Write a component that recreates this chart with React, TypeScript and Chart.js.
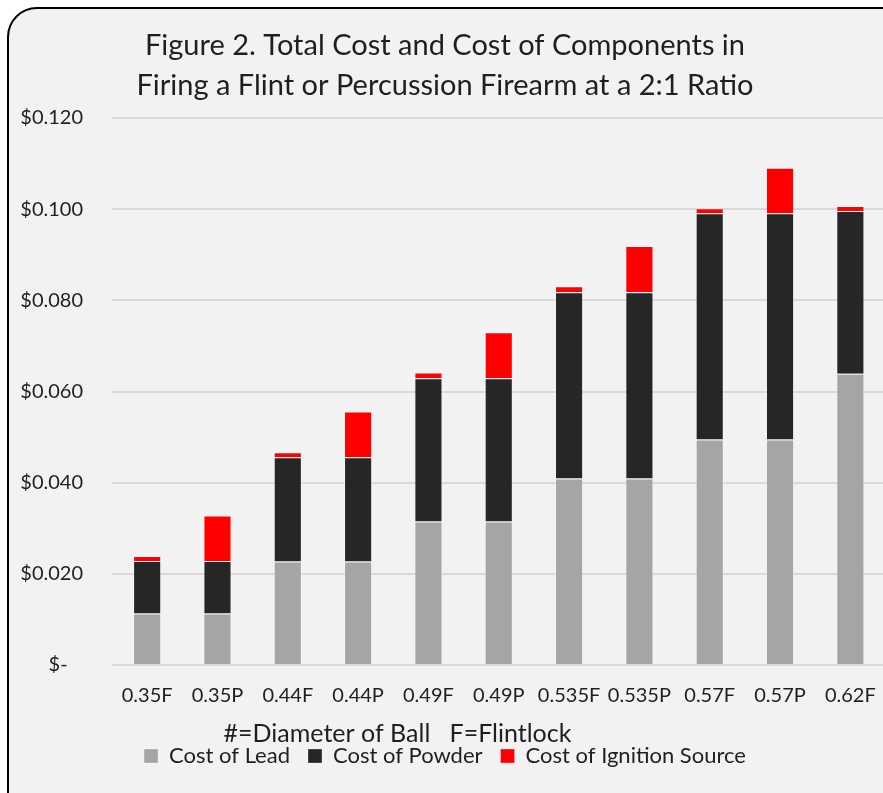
import React, { useEffect, useRef } from "react";
import { Chart, registerables } from "chart.js";

Chart.register(...registerables);

const categories = ["0.35F", "0.35P", "0.44F", "0.44P", "0.49F", "0.49P", "0.535F", "0.535P", "0.57F", "0.57P", "0.62F"];
const leadCost = [0.0113, 0.0113, 0.0227, 0.0227, 0.0315, 0.0315, 0.0409, 0.0409, 0.0495, 0.0495, 0.0639];
const powderCost = [0.0115, 0.0115, 0.0229, 0.0229, 0.0314, 0.0314, 0.0409, 0.0409, 0.0496, 0.0496, 0.0357];
const ignitionCost = [0.0011, 0.0100, 0.0011, 0.0100, 0.0013, 0.0101, 0.0013, 0.0101, 0.0011, 0.0100, 0.0011];
const seriesNames = ["Cost of Lead", "Cost of Powder", "Cost of Ignition Source"];
const titleLines = ["Figure 2. Total Cost and Cost of Components in", "Firing a Flint or Percussion Firearm at a 2:1 Ratio"];
const axisNote = "#=Diameter of Ball   F=Flintlock";
const yMax = 0.12;
const yStep = 0.02;

const FONT = 'Lato, "Noto Sans", sans-serif';
const TEXT = "#1f1f1f";

const axisNotePlugin = {
  id: "axisNote",
  afterDraw(chart: any) {
    const ctx = chart.ctx;
    ctx.save();
    ctx.font = `25px ${FONT}`;
    ctx.fillStyle = TEXT;
    ctx.textAlign = "center";
    ctx.textBaseline = "middle";
    ctx.fillText(axisNote, chart.width / 2 - 50, chart.chartArea.bottom + 69);
    ctx.restore();
  },
};

export default function App() {
  const ref = useRef<HTMLCanvasElement | null>(null);

  useEffect(() => {
    if (!ref.current) return;
    Chart.defaults.font.family = FONT;
    const border = "rgba(255,255,255,0.3)";
    const chart = new Chart(ref.current, {
      type: "bar",
      data: {
        labels: categories,
        datasets: [
          { label: seriesNames[0], data: leadCost, backgroundColor: "#a5a5a5", borderColor: border, borderWidth: 1 },
          { label: seriesNames[1], data: powderCost, backgroundColor: "#262626", borderColor: border, borderWidth: 1 },
          { label: seriesNames[2], data: ignitionCost, backgroundColor: "#ff0000", borderColor: border, borderWidth: 1 },
        ],
      },
      options: {
        animation: false,
        responsive: false,
        maintainAspectRatio: false,
        layout: { padding: { left: 0, right: 5, top: 0, bottom: 16 } },
        datasets: { bar: { barPercentage: 0.4, categoryPercentage: 1 } },
        plugins: {
          title: {
            display: true,
            text: titleLines,
            color: TEXT,
            font: { size: 29, weight: "normal", family: FONT, lineHeight: 1.38 },
            padding: { top: 26, bottom: 12 },
          },
          legend: {
            position: "bottom",
            labels: {
              color: TEXT,
              font: { size: 22, family: FONT },
              boxWidth: 14,
              boxHeight: 14,
              padding: 18,
            },
          },
          tooltip: { enabled: false },
        },
        scales: {
          x: {
            stacked: true,
            grid: { display: false, drawTicks: false },
            border: { display: false },
            ticks: { color: TEXT, font: { size: 20, family: FONT }, padding: 19, maxRotation: 0, autoSkip: false },
          },
          y: {
            stacked: true,
            min: 0,
            max: yMax,
            grid: { color: "#d9d9d9", lineWidth: 2, drawTicks: false },
            border: { display: false },
            afterFit: (s: any) => {
              s.width = 112;
            },
            ticks: {
              stepSize: yStep,
              color: TEXT,
              font: { size: 20, family: FONT },
              padding: 29,
              callback: (v: any) => (Number(v) === 0 ? "$-   " : "$" + Number(v).toFixed(3)),
            },
          },
        },
      },
      plugins: [axisNotePlugin],
    });
    return () => chart.destroy();
  }, []);

  return (
    <div style={{ position: "absolute", left: 0, top: 0, width: 883, height: 793, overflow: "hidden", background: "#fff" }}>
      <div
        style={{
          position: "absolute",
          left: 7,
          top: 7,
          width: 920,
          height: 830,
          boxSizing: "border-box",
          border: "2px solid #000",
          borderRadius: 30,
          background: "#f2f2f2",
        }}
      />
      <canvas ref={ref} width={895} height={793} style={{ position: "absolute", left: 0, top: 0, width: 895, height: 793 }} />
    </div>
  );
}
